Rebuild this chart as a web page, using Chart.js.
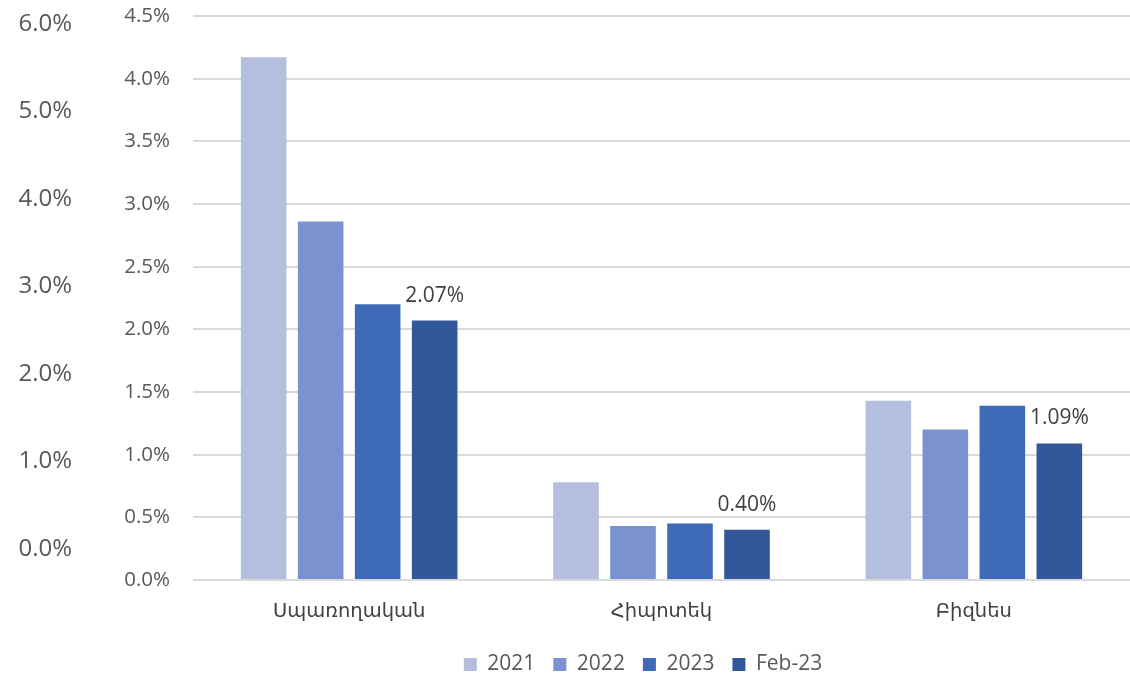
<!DOCTYPE html>
<html>
<head>
<meta charset="utf-8">
<script src="https://cdn.jsdelivr.net/npm/chart.js@4/dist/chart.umd.min.js"></script>
<style>
  body { margin: 0; background: #fff; }
  #wrap { width: 1130px; height: 674px; }
</style>
</head>
<body>
<div id="wrap"><canvas id="myChart"></canvas></div>
<script>
// categories and series (percent values)
var categories = ["Սպառողական", "Հիպոտեկ", "Բիզնես"];
var seriesNames = ["2021", "2022", "2023", "Feb-23"];
var s2021 = [4.17, 0.78, 1.43];
var s2022 = [2.86, 0.43, 1.20];
var s2023 = [2.20, 0.45, 1.39];
var sFeb23 = [2.07, 0.40, 1.09];
var innerTicks = [0, 0.5, 1, 1.5, 2, 2.5, 3, 3.5, 4, 4.5];
var outerTicks = [0, 1, 2, 3, 4, 5, 6];

var colors = ["#B4BFDF", "#7A93D0", "#3E6AB8", "#32589A"];
var fontFam = "'Open Sans', 'DejaVu Sans', sans-serif";

// labels above the last series only
var lastLabels = {
  id: "lastLabels",
  afterLayout: function(chart) {
    // legend sits a bit right of the canvas centre
    chart.legend.left += 78;
    chart.legend.right += 78;
  },
  afterDatasetsDraw: function(chart) {
    var ctx = chart.ctx;
    var meta = chart.getDatasetMeta(3);
    ctx.save();
    ctx.font = "21px " + fontFam;
    ctx.fillStyle = "#404040";
    ctx.textAlign = "center";
    ctx.textBaseline = "middle";
    meta.data.forEach(function(bar, i) {
      ctx.fillText(sFeb23[i].toFixed(2) + "%", bar.x, bar.y - 25);
    });
    ctx.restore();
  }
};

function noPad(axis) {
  axis.paddingTop = 0;
  axis.paddingBottom = 0;
}

var ctx = document.getElementById("myChart").getContext("2d");
var myChart = new Chart(ctx, {
  type: "bar",
  data: {
    labels: categories,
    datasets: [
      { label: seriesNames[0], data: s2021, backgroundColor: colors[0] },
      { label: seriesNames[1], data: s2022, backgroundColor: colors[1] },
      { label: seriesNames[2], data: s2023, backgroundColor: colors[2] },
      { label: seriesNames[3], data: sFeb23, backgroundColor: colors[3] }
    ]
  },
  plugins: [lastLabels],
  options: {
    responsive: true,
    maintainAspectRatio: false,
    animation: false,
    categoryPercentage: 0.73,
    barPercentage: 0.8,
    layout: { padding: { top: 16, left: 0, right: 0, bottom: -11 } },
    plugins: {
      tooltip: { enabled: false },
      legend: {
        position: "bottom",
        labels: {
          boxWidth: 13,
          boxHeight: 13,
          padding: 18,
          color: "#595959",
          font: { family: fontFam, size: 21 }
        }
      }
    },
    scales: {
      x: {
        grid: { display: false },
        border: { display: false },
        afterFit: function(axis) { axis.height = 56; },
        ticks: {
          color: "#404040",
          padding: 12,
          font: { family: fontFam, size: 19.5 }
        }
      },
      y: {
        position: "left",
        weight: 0,
        min: 0,
        max: 4.5,
        afterBuildTicks: function(axis) {
          axis.ticks = innerTicks.map(function(v) { return { value: v }; });
        },
        afterFit: function(axis) { axis.width = 113; noPad(axis); },
        grid: { color: "#D9D9D9", lineWidth: 2, drawTicks: false },
        border: { display: false },
        ticks: {
          color: "#595959",
          padding: 23,
          font: { family: fontFam, size: 20.5 },
          callback: function(v) { return v.toFixed(1) + "%"; }
        }
      },
      y2: {
        type: "linear",
        position: "left",
        weight: 1,
        min: -0.355,
        max: 6.092,
        afterBuildTicks: function(axis) {
          axis.ticks = outerTicks.map(function(v) { return { value: v }; });
        },
        afterFit: function(axis) { axis.width = 80; noPad(axis); },
        grid: { display: false, drawTicks: false },
        border: { display: false },
        ticks: {
          color: "#595959",
          padding: 8,
          font: { family: fontFam, size: 24 },
          callback: function(v) { return v.toFixed(1) + "%"; }
        }
      }
    }
  }
});
</script>
</body>
</html>
